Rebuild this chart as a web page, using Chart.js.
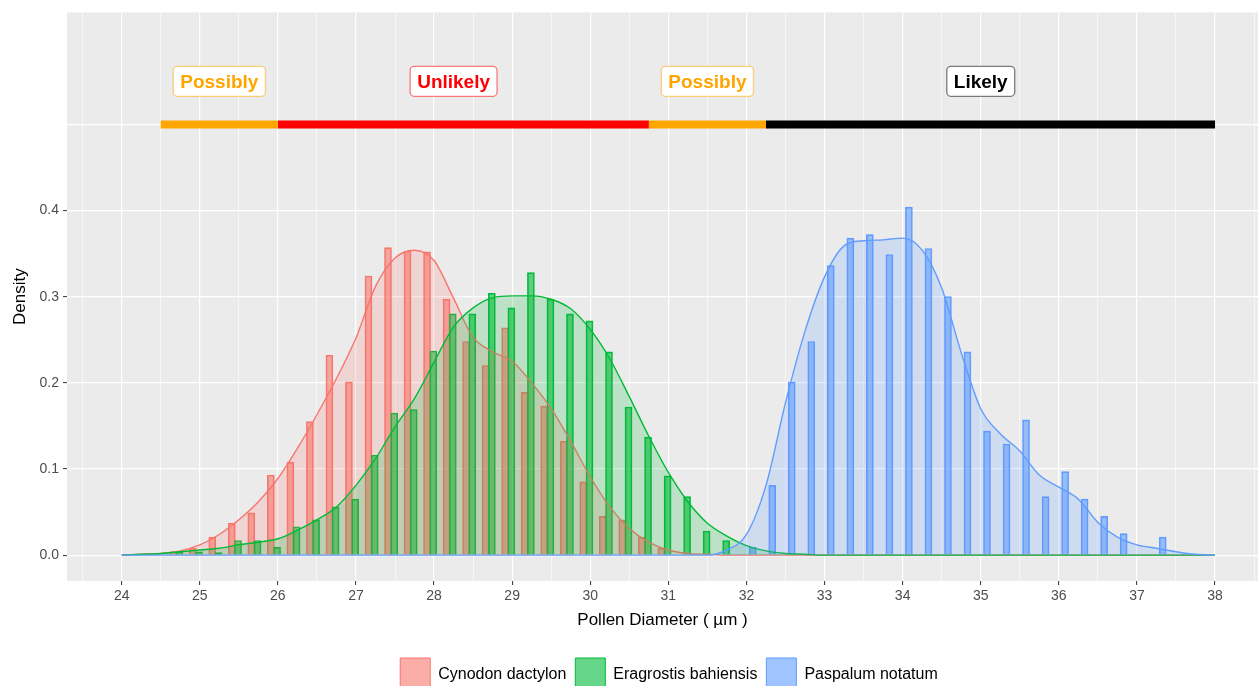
<!DOCTYPE html>
<html>
<head>
<meta charset="utf-8">
<script src="https://cdn.jsdelivr.net/npm/chart.js@4.4.0/dist/chart.umd.min.js"></script>
<style>
  html, body { margin: 0; padding: 0; background: #ffffff; overflow: hidden; }
  #wrap { width: 1258px; height: 686px; position: relative; }
</style>
</head>
<body>
<div id="wrap"><canvas id="pollenChart"></canvas></div>
<script>
// histogram bars (density scale)
const cynodonX = [24.66, 24.91, 25.16, 25.41, 25.66, 25.91, 26.16, 26.41, 26.66, 26.91, 27.16, 27.41, 27.66,
  27.91, 28.16, 28.41, 28.66, 28.91, 29.16, 29.41, 29.66, 29.91, 30.16, 30.41, 30.66, 30.91];
const cynodonY = [0.004, 0.008, 0.021, 0.037, 0.049, 0.093, 0.108, 0.155, 0.232, 0.201, 0.324, 0.357, 0.353,
  0.352, 0.297, 0.248, 0.220, 0.264, 0.189, 0.173, 0.132, 0.085, 0.045, 0.041, 0.021, 0.008];

const eragrostisX = [24.74, 24.99, 25.24, 25.49, 25.74, 25.99, 26.24, 26.49, 26.74, 26.99, 27.24, 27.49, 27.74,
  27.99, 28.24, 28.49, 28.74, 28.99, 29.24, 29.49, 29.74, 29.99, 30.24, 30.49, 30.74, 30.99, 31.24, 31.49, 31.74];
const eragrostisY = [0.004, 0.004, 0.003, 0.017, 0.017, 0.009, 0.033, 0.041, 0.056, 0.065, 0.116, 0.165, 0.169,
  0.237, 0.280, 0.280, 0.304, 0.287, 0.328, 0.297, 0.280, 0.272, 0.236, 0.172, 0.137, 0.092, 0.068, 0.028, 0.017];

const paspalumX = [32.08, 32.33, 32.58, 32.83, 33.08, 33.33, 33.58, 33.83, 34.08, 34.33, 34.58, 34.83, 35.08,
  35.33, 35.58, 35.83, 36.08, 36.33, 36.58, 36.83, 37.33];
const paspalumY = [0.009, 0.081, 0.201, 0.248, 0.336, 0.368, 0.372, 0.349, 0.404, 0.356, 0.300, 0.236, 0.144,
  0.129, 0.157, 0.068, 0.097, 0.065, 0.045, 0.025, 0.021];

// density curves
const densityX = [24, 24.25, 24.5, 24.75, 25, 25.25, 25.5, 25.75, 26, 26.25, 26.5, 26.75, 27, 27.25, 27.5, 27.75,
  28, 28.25, 28.5, 28.75, 29, 29.25, 29.5, 29.75, 30, 30.25, 30.5, 30.75, 31, 31.25, 31.5, 31.75, 32, 32.25, 32.5,
  32.75, 33, 33.25, 33.5, 33.75, 34, 34.25, 34.5, 34.75, 35, 35.25, 35.5, 35.75, 36, 36.25, 36.5, 36.75, 37, 37.25,
  37.5, 37.75, 38];
const cynodonDensity = [0, 0.001, 0.002, 0.005, 0.012, 0.024, 0.041, 0.062, 0.089, 0.124, 0.163, 0.205, 0.252,
  0.312, 0.345, 0.354, 0.342, 0.298, 0.253, 0.236, 0.225, 0.200, 0.170, 0.132, 0.091, 0.056, 0.031, 0.015, 0.006,
  0.002, 0.001, 0, 0, 0, 0, 0, 0, 0, 0, 0, 0, 0, 0, 0, 0, 0, 0, 0, 0, 0, 0, 0, 0, 0, 0, 0, 0];
const eragrostisDensity = [0, 0.001, 0.002, 0.004, 0.006, 0.008, 0.012, 0.015, 0.019, 0.029, 0.041, 0.056, 0.081,
  0.112, 0.149, 0.182, 0.224, 0.265, 0.287, 0.299, 0.301, 0.301, 0.297, 0.286, 0.262, 0.228, 0.184, 0.138, 0.096,
  0.062, 0.037, 0.022, 0.011, 0.005, 0.002, 0.001, 0, 0, 0, 0, 0, 0, 0, 0, 0, 0, 0, 0, 0, 0, 0, 0, 0, 0, 0, 0, 0];
const paspalumDensity = [0, 0, 0, 0, 0, 0, 0, 0, 0, 0, 0, 0, 0, 0, 0, 0, 0, 0, 0, 0, 0, 0, 0, 0, 0, 0, 0, 0, 0, 0,
  0, 0.006, 0.024, 0.081, 0.177, 0.260, 0.323, 0.359, 0.365, 0.366, 0.368, 0.354, 0.310, 0.235, 0.170, 0.141,
  0.121, 0.093, 0.079, 0.065, 0.038, 0.021, 0.012, 0.008, 0.004, 0.001, 0];

// likelihood bands on top
const segmentStart = [24.5, 26, 30.75, 32.25];
const segmentEnd = [26, 30.75, 32.25, 38];
const segmentColor = ['#FFA500', '#FF0000', '#FFA500', '#000000'];
const segmentY = 0.5;
const labelText = ['Possibly', 'Unlikely', 'Possibly', 'Likely'];
const labelX = [25.25, 28.25, 31.5, 35];
const labelY = 0.55;

// axes
const xTickValues = [23.5, 24, 24.5, 25, 25.5, 26, 26.5, 27, 27.5, 28, 28.5, 29, 29.5, 30, 30.5, 31, 31.5, 32,
  32.5, 33, 33.5, 34, 34.5, 35, 35.5, 36, 36.5, 37, 37.5, 38, 38.5];
const yTickValues = [0, 0.1, 0.2, 0.3, 0.4, 0.5];
const yTickLabels = ['0.0', '0.1', '0.2', '0.3', '0.4', ''];

const FONT = '"Liberation Sans", Arial, sans-serif';
Chart.defaults.font.family = FONT;

function pairs(xs, ys) {
  return xs.map((x, i) => ({ x: x, y: ys[i] }));
}

const datasets = [
  { type: 'bar', label: 'Cynodon dactylon', data: pairs(cynodonX, cynodonY),
    backgroundColor: 'rgba(248,118,109,0.6)', borderColor: '#F8766D', borderWidth: 1,
    barThickness: 7, grouped: false, order: 9 },
  { type: 'bar', label: 'Eragrostis bahiensis', data: pairs(eragrostisX, eragrostisY),
    backgroundColor: 'rgba(0,186,56,0.6)', borderColor: '#00BA38', borderWidth: 1,
    barThickness: 7, grouped: false, order: 8 },
  { type: 'bar', label: 'Paspalum notatum', data: pairs(paspalumX, paspalumY),
    backgroundColor: 'rgba(97,156,255,0.6)', borderColor: '#619CFF', borderWidth: 1,
    barThickness: 7, grouped: false, order: 7 },
  { type: 'line', label: 'Cynodon density', data: pairs(densityX, cynodonDensity),
    borderColor: '#F8766D', backgroundColor: 'rgba(248,118,109,0.2)', borderWidth: 1.4,
    fill: 'origin', pointRadius: 0, cubicInterpolationMode: 'monotone', order: 6 },
  { type: 'line', label: 'Eragrostis density', data: pairs(densityX, eragrostisDensity),
    borderColor: '#00BA38', backgroundColor: 'rgba(0,186,56,0.2)', borderWidth: 1.4,
    fill: 'origin', pointRadius: 0, cubicInterpolationMode: 'monotone', order: 5 },
  { type: 'line', label: 'Paspalum density', data: pairs(densityX, paspalumDensity),
    borderColor: '#619CFF', backgroundColor: 'rgba(97,156,255,0.2)', borderWidth: 1.4,
    fill: 'origin', pointRadius: 0, cubicInterpolationMode: 'monotone', order: 4 }
];

segmentStart.forEach((s, i) => {
  datasets.push({
    type: 'line', label: 'band ' + i,
    data: [{ x: s, y: segmentY }, { x: segmentEnd[i], y: segmentY }],
    borderColor: segmentColor[i], borderWidth: 8, borderCapStyle: 'butt',
    pointRadius: 0, fill: false, order: 1
  });
});

// grey panel like ggplot
const panelBackground = {
  id: 'panelBackground',
  beforeDraw(chart) {
    const { ctx, chartArea: a } = chart;
    ctx.save();
    ctx.fillStyle = '#EBEBEB';
    ctx.fillRect(a.left, a.top, a.right - a.left, a.bottom - a.top);
    ctx.restore();
  }
};

// boxed labels above the bands
const bandLabels = {
  id: 'bandLabels',
  afterDatasetsDraw(chart) {
    const { ctx, scales } = chart;
    ctx.save();
    ctx.font = 'bold 19px ' + FONT;
    ctx.textAlign = 'center';
    ctx.textBaseline = 'middle';
    labelText.forEach((text, i) => {
      const cx = scales.x.getPixelForValue(labelX[i]);
      const cy = scales.y.getPixelForValue(labelY);
      const w = ctx.measureText(text).width + 14;
      const h = 30;
      ctx.beginPath();
      ctx.roundRect(cx - w / 2, cy - h / 2, w, h, 4);
      ctx.fillStyle = '#FFFFFF';
      ctx.fill();
      ctx.globalAlpha = 0.5;
      ctx.strokeStyle = segmentColor[i];
      ctx.lineWidth = 1.3;
      ctx.stroke();
      ctx.globalAlpha = 1;
      ctx.fillStyle = segmentColor[i];
      ctx.fillText(text, cx, cy + 1);
    });
    ctx.restore();
  }
};

// nudge legend to the right a bit
const legendShift = {
  id: 'legendShift',
  afterLayout(chart) {
    if (chart.legend) {
      chart.legend.left += 40;
      chart.legend.right += 40;
    }
  }
};

const ctx = document.getElementById('pollenChart').getContext('2d');
const pollenChart = new Chart(ctx, {
  type: 'bar',
  data: { datasets: datasets },
  plugins: [panelBackground, bandLabels, legendShift],
  options: {
    responsive: true,
    maintainAspectRatio: false,
    animation: false,
    devicePixelRatio: 1,
    layout: { padding: { top: 12, left: 0, right: 0, bottom: -16 } },
    plugins: {
      tooltip: { enabled: false },
      legend: {
        position: 'bottom',
        labels: {
          boxWidth: 30,
          boxHeight: 34,
          padding: 9,
          color: '#000000',
          font: { size: 16 },
          filter: item => item.datasetIndex < 3,
          sort: (a, b) => a.datasetIndex - b.datasetIndex
        }
      }
    },
    scales: {
      x: {
        type: 'linear',
        min: 23.3,
        max: 38.55,
        offset: false,
        afterBuildTicks: axis => { axis.ticks = xTickValues.map(v => ({ value: v })); },
        afterFit: s => { s.height = 68; },
        ticks: {
          autoSkip: false,
          maxRotation: 0,
          padding: 3,
          color: '#4D4D4D',
          font: { size: 14 },
          callback: v => (Number.isInteger(v) ? String(v) : '')
        },
        grid: {
          offset: false,
          color: '#FFFFFF',
          lineWidth: c => (Number.isInteger(c.tick.value) ? 1.2 : 0.6),
          tickLength: 4,
          tickWidth: 1,
          tickColor: c => (Number.isInteger(c.tick.value) ? '#333333' : 'rgba(0,0,0,0)')
        },
        border: { display: false },
        title: {
          display: true,
          text: 'Pollen Diameter ( µm )',
          color: '#000000',
          font: { size: 17 },
          padding: { top: 4, bottom: 18 }
        }
      },
      y: {
        min: -0.03,
        max: 0.63,
        afterBuildTicks: axis => { axis.ticks = yTickValues.map(v => ({ value: v })); },
        afterFit: s => { s.width = 67; },
        ticks: {
          padding: 4,
          color: '#4D4D4D',
          font: { size: 14 },
          callback: (v, i) => yTickLabels[i]
        },
        grid: {
          color: '#FFFFFF',
          lineWidth: 1.2,
          tickLength: 4,
          tickWidth: 1,
          tickColor: c => (c.tick.value <= 0.4 ? '#333333' : 'rgba(0,0,0,0)')
        },
        border: { display: false },
        title: {
          display: true,
          text: 'Density',
          color: '#000000',
          font: { size: 17 },
          padding: { top: 10, bottom: 2 }
        }
      }
    }
  }
});
</script>
</body>
</html>
